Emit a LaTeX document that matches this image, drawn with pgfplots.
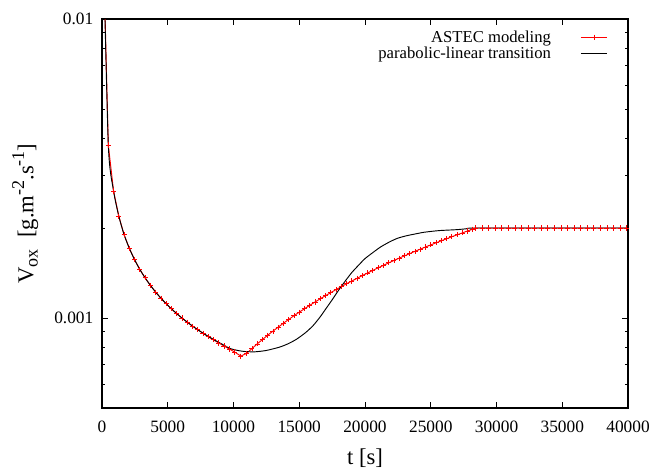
\documentclass[border=0pt]{standalone}
\usepackage{fontspec}
\setmainfont{Liberation Serif}
\usepackage{pgfplots}
\pgfplotsset{compat=1.18}
\usetikzlibrary{calc}
\newcommand{\sub}[1]{\raisebox{-0.4ex}{\fontsize{13.5}{14}\selectfont #1}}
\newcommand{\super}[1]{\raisebox{0.9ex}{\fontsize{13.5}{14}\selectfont #1}}
\begin{document}
\begin{tikzpicture}
\begin{axis}[
  name=ax,
  scale only axis,
  width=394.5pt, height=291.75pt,
  xmin=0, xmax=40000,
  ymode=log, ymin=0.0005, ymax=0.01,
  xtick={0,5000,10000,15000,20000,25000,30000,35000,40000},
  xticklabels={0,5000,10000,15000,20000,25000,30000,35000,40000},
  scaled x ticks=false,
  ytick={0.001,0.01},
  yticklabels={0.001,0.01},
  minor ytick={0.0005,0.0006,0.0007,0.0008,0.0009,0.002,0.003,0.004,0.005,0.006,0.007,0.008,0.009},
  tick pos=both,
  tick align=inside,
  major tick length=4.5pt,
  minor tick length=2.5pt,
  axis line style={line width=0.8pt},
  every tick/.style={line width=0.7pt, black},
  ticklabel style={font=\fontsize{13}{15}\selectfont},
  xticklabel style={yshift=-6pt},
  yticklabel style={xshift=-3pt},
  xlabel={t [s]},
  ylabel={V\sub{ox}~~[g.m\super{-2}.s\super{-1}]},
  label style={font=\fontsize{17}{19}\selectfont},
  xlabel style={at={(axis description cs:0.5,-0.1285)}, anchor=center},
  ylabel style={at={(axis description cs:-0.146,0.5)}, anchor=center},
  legend plot pos=right,
  legend cell align=right,
  legend style={draw=none, fill=none, at={(0.97,0.985)}, anchor=north east,
    font=\fontsize{12.5}{14}\selectfont, row sep=-2pt,
    /tikz/every odd column/.append style={column sep=20pt}},
  legend image code/.code={\draw[mark repeat=2,mark phase=2,#1] plot coordinates {(0pt,0pt) (10pt,0pt) (20pt,0pt)};},
]
\addplot[red, line width=0.7pt, mark=+, mark size=1.9pt, mark options={line width=0.6pt}] coordinates {
(80,0.019)(480,0.00379)(880,0.00266)(1280,0.00219)(1680,0.00190)(2080,0.00171)
(2480,0.001566)(2880,0.001453)(3280,0.001362)(3680,0.001286)(4080,0.001221)
(4480,0.001165)(4880,0.001117)(5280,0.001073)(5680,0.001035)(6080,0.001000)
(6480,0.000969)(6880,0.000940)(7280,0.000914)(7680,0.000890)(8080,0.000866)
(8480,0.000845)(8880,0.000825)(9280,0.000806)(9680,0.000788)(10080,0.000770)
(10560,0.000746)(11000,0.000762)(11400,0.000790)(11800,0.000819)(12200,0.000847)
(12600,0.000876)(13000,0.000904)(13400,0.000932)(13800,0.000961)(14200,0.000989)
(14600,0.001018)(15000,0.001046)(15400,0.001074)(15800,0.001103)(16200,0.001131)
(16600,0.001160)(17000,0.001188)(17400,0.001216)(17800,0.001245)(18200,0.001273)
(18600,0.001302)(19000,0.001330)(19400,0.001358)(19800,0.001387)(20200,0.001415)
(20600,0.001444)(21000,0.001472)(21400,0.001500)(21800,0.001529)(22200,0.001557)
(22600,0.001586)(23000,0.001614)(23400,0.001642)(23800,0.001671)(24200,0.001699)
(24600,0.001728)(25000,0.001756)(25400,0.001784)(25800,0.001813)(26200,0.001841)
(26600,0.001870)(27000,0.001898)(27400,0.001926)(27800,0.001955)(28200,0.001983)
(28400,0.002)(28900,0.002)(29400,0.002)(29900,0.002)(30400,0.002)(30900,0.002)
(31400,0.002)(31900,0.002)(32400,0.002)(32900,0.002)(33400,0.002)(33900,0.002)
(34400,0.002)(34900,0.002)(35400,0.002)(35900,0.002)(36400,0.002)(36900,0.002)
(37400,0.002)(37900,0.002)(38400,0.002)(38900,0.002)(39400,0.002)(39900,0.002)
};
\addlegendentry{ASTEC modeling}
\addplot[black, line width=0.7pt, mark=none, smooth, tension=0.4] coordinates {
(80,0.019)(480,0.00379)(880,0.00266)(1280,0.00219)(1680,0.00190)(2080,0.00171)
(2480,0.001566)(2880,0.001453)(3280,0.001362)(3680,0.001286)(4080,0.001221)
(4480,0.001165)(4880,0.001117)(5280,0.001073)(5680,0.001035)(6080,0.001000)
(6480,0.000969)(6880,0.000940)(7280,0.000914)(7680,0.000890)(8080,0.000868)
(8480,0.000848)(8880,0.000829)(9280,0.000811)(9734,0.000791)(10200,0.000781)
(10622,0.000775)(11000,0.000772)(11635,0.000771)(12500,0.000779)(13536,0.000800)
(14200,0.000822)(14805,0.000850)(15500,0.000895)(16070,0.000945)(16600,0.00101)
(17000,0.00107)(17500,0.00115)(18000,0.00124)(18500,0.00133)(19000,0.00142)
(19500,0.00150)(20000,0.00158)(20634,0.00166)(21200,0.00173)(21900,0.00180)
(22500,0.00185)(23169,0.001885)(23800,0.00191)(24436,0.001934)(25100,0.00195)
(25703,0.001962)(26970,0.001975)(27700,0.001988)(28300,0.002)(34000,0.002)(40000,0.002)
};
\addlegendentry{parabolic-linear transition}
\end{axis}
\pgfresetboundingbox
\path[use as bounding box] ($(ax.south west)+(-76.5pt,-45.75pt)$) rectangle ($(ax.south west)+(412.5pt,306pt)$);
\end{tikzpicture}
\end{document}
